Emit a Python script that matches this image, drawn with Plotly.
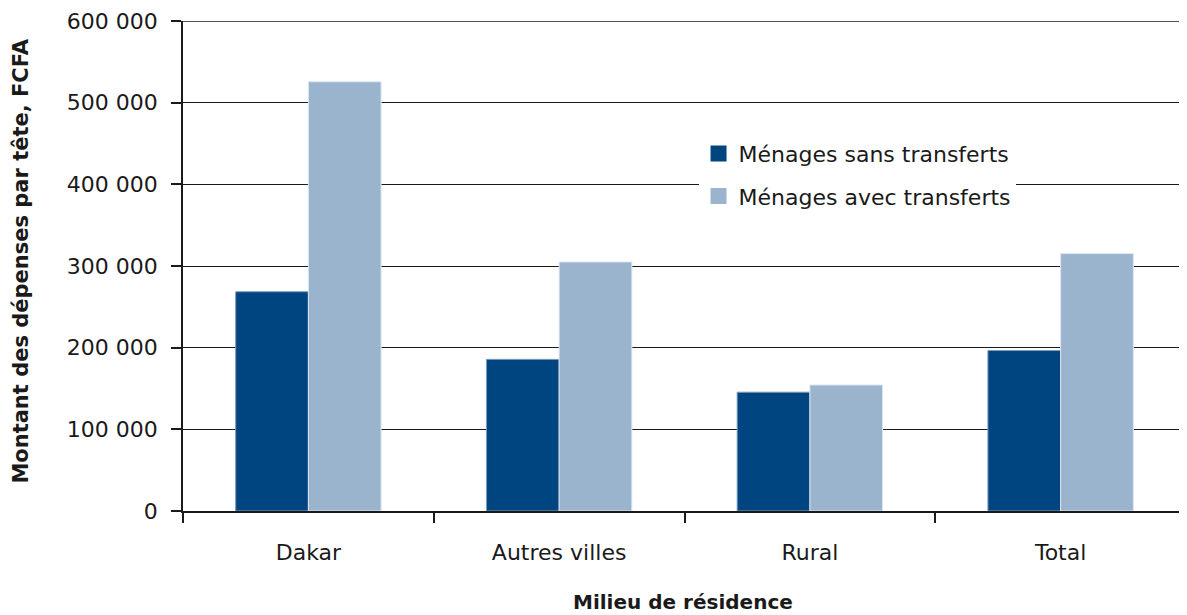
import plotly.graph_objects as go

categories = ["Dakar", "Autres villes", "Rural", "Total"]
sans_transferts = [268500, 185700, 145500, 196600]
avec_transferts = [525600, 305000, 154300, 315200]
series_names = ["Ménages sans transferts", "Ménages avec transferts"]
y_tickvals = [0, 100000, 200000, 300000, 400000, 500000, 600000]
y_ticktext = ["0", "100 000", "200 000", "300 000", "400 000", "500 000", "600 000"]

DARK = "#00457F"
LIGHT = "#9BB4CE"
FONT = "DejaVu Sans"

fig = go.Figure()
fig.add_trace(go.Bar(x=categories, y=sans_transferts, name=series_names[0],
                     marker=dict(color=DARK, line=dict(color="#7f9dbf", width=1)),
                     showlegend=False))
fig.add_trace(go.Bar(x=categories, y=avec_transferts, name=series_names[1],
                     marker=dict(color=LIGHT, line=dict(color="#dde6f0", width=1)),
                     showlegend=False))
# legend entries with larger square symbols
fig.add_trace(go.Scatter(x=[None], y=[None], mode="markers", name=series_names[0],
                         marker=dict(symbol="square", size=18, color=DARK),
                         legendgroup="a"))
fig.add_trace(go.Scatter(x=[None], y=[None], mode="markers", name=series_names[1],
                         marker=dict(symbol="square", size=18, color=LIGHT),
                         legendgroup="b"))

# the page body adds an 8px offset; the figure is sized to fill the rest
fig.update_layout(
    width=1179, height=607,
    margin=dict(l=175, r=1, t=11, b=104),
    paper_bgcolor="white", plot_bgcolor="white",
    barmode="group", bargap=0.42, bargroupgap=0,
    font=dict(family=FONT, size=22, color="#1a1a1a"),
    legend=dict(x=0.514, y=0.772, xanchor="left", yanchor="top",
                bgcolor="white", borderwidth=0, traceorder="grouped",
                tracegroupgap=11, font=dict(family=FONT, size=22, color="#1a1a1a")),
    xaxis=dict(type="category", showline=True, linecolor="#1a1a1a", linewidth=1.5,
               ticks="outside", tickson="boundaries", ticklen=10, tickwidth=1.5,
               tickcolor="#1a1a1a", showgrid=False, ticklabelstandoff=21,
               tickfont=dict(family=FONT, size=22, color="#1a1a1a")),
    yaxis=dict(range=[0, 600000], tickvals=y_tickvals, ticktext=y_ticktext,
               showline=True, linecolor="#1a1a1a", linewidth=1.5, mirror=False,
               ticks="outside", ticklen=10, tickwidth=1.5, tickcolor="#1a1a1a",
               showgrid=True, gridcolor="#1a1a1a", gridwidth=1.3, zeroline=False,
               ticklabelstandoff=9, ticklabeloverflow="allow",
               tickfont=dict(family=FONT, size=22, color="#1a1a1a")),
    shapes=[
        dict(type="line", xref="paper", yref="y", x0=0, x1=1,
             y0=y_tickvals[-1], y1=y_tickvals[-1],
             line=dict(color="#1a1a1a", width=1.3), layer="below"),
    ],
    annotations=[
        dict(text="<b>Montant des dépenses par tête, FCFA</b>", textangle=-90,
             xref="paper", yref="paper", x=-0.161, y=0.51, xanchor="center",
             yanchor="middle", showarrow=False,
             font=dict(family=FONT, size=21, color="#1a1a1a")),
        dict(text="<b>Milieu de résidence</b>", xref="paper", yref="paper",
             x=0.499, y=-0.1866, xanchor="center", yanchor="middle", showarrow=False,
             font=dict(family=FONT, size=20, color="#1a1a1a")),
    ],
)

fig.write_html("out.html")
